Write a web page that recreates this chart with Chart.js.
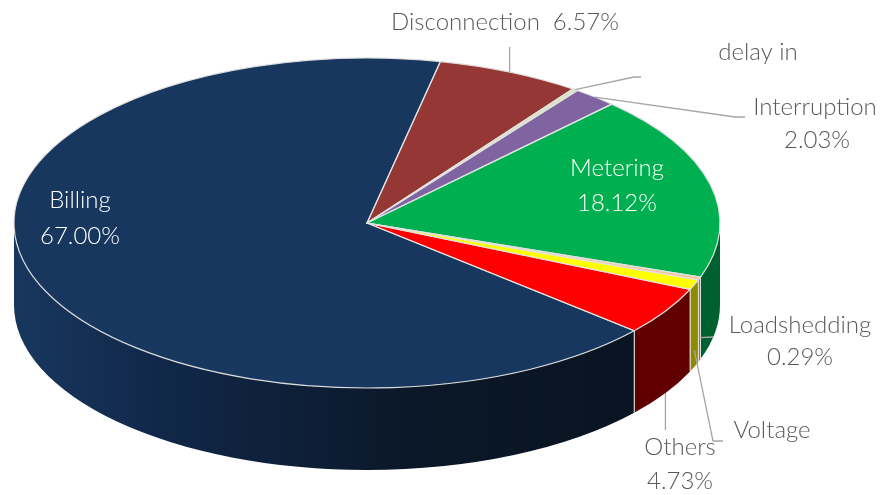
<!DOCTYPE html>
<html>
<head>
<meta charset="utf-8">
<script src="https://cdn.jsdelivr.net/npm/chart.js@4.4.0/dist/chart.umd.min.js"></script>
<style>
  html, body { margin: 0; padding: 0; background: #fff; }
  canvas { display: block; }
</style>
</head>
<body>
<canvas id="complaints" width="887" height="495"></canvas>
<script>
// complaint categories, clockwise from the top
const categories = ['Disconnection', 'delay in', 'Interruption', 'Metering', 'Loadshedding', 'Voltage', 'Others', 'Billing'];
const shares = [6.57, 0.26, 2.03, 18.12, 0.29, 1.00, 4.73, 67.00];
const showValue = [true, false, true, true, true, false, true, true];
const topColors = ['#953735', '#d7e4bd', '#8064a2', '#00b050', '#fac090', '#ffff00', '#ff0000', '#17375e'];
const sideColors = ['#5e2220', '#8a9a6a', '#4f3d66', '#006030', '#a0704a', '#8c8c00', '#600000', null];

// tilted disc: screen ellipse of the top face and thickness of the rim
const TILT = { cx: 367, cy: 223, rx: 353, ry: 165, depth: 82 };

// where each label sits: text line centres, elbow points of the leader, how far down the rim it attaches
const labelLayout = [
  { lines: [[505, 22]], inline: true, leader: 'up', stopY: 47 },
  { lines: [[758, 52]], leader: [[634, 77], [641, 77]] },
  { lines: [[815, 107], [817, 140]], leader: [[735, 117], [745, 117]] },
  { lines: [[617, 168], [617, 203]], inside: true },
  { lines: [[800, 325], [800, 357]], leader: [[713, 337]], rim: 0.72 },
  { lines: [[772, 430]], leader: [[713, 441], [723, 441]], rim: 0.8 },
  { lines: [[680, 447], [680, 481]], leader: 'down', stopY: 430, rim: 1 },
  { lines: [[80, 200], [80, 236]], inside: true }
];

const TAU = Math.PI * 2;

function frontSpans(arc) {
  const s = ((arc.startAngle % TAU) + TAU) % TAU;
  const e = s + (arc.endAngle - arc.startAngle);
  const out = [];
  [[0, Math.PI], [TAU, TAU + Math.PI]].forEach(([lo, hi]) => {
    const a = Math.max(s, lo), b = Math.min(e, hi);
    if (b > a) out.push([a, b]);
  });
  return out;
}

function rimPoint(angle, down) {
  return [TILT.cx + TILT.rx * Math.cos(angle), TILT.cy + TILT.ry * Math.sin(angle) + (down || 0)];
}

const tiltPlugin = {
  id: 'tilt',
  beforeDatasetsDraw(chart) {
    const ctx = chart.ctx;
    const arcs = chart.getDatasetMeta(0).data;
    const { cx, cy, rx, ry, depth } = TILT;

    const billingSide = ctx.createLinearGradient(cx - rx, 0, cx + rx, 0);
    billingSide.addColorStop(0, '#18375e');
    billingSide.addColorStop(0.2, '#11284a');
    billingSide.addColorStop(0.55, '#0b1829');
    billingSide.addColorStop(1, '#08131f');

    // rim of the disc, only the half facing the viewer
    arcs.forEach((arc, i) => {
      frontSpans(arc).forEach(([a, b]) => {
        ctx.beginPath();
        ctx.ellipse(cx, cy, rx, ry, 0, a, b);
        ctx.ellipse(cx, cy + depth, rx, ry, 0, b, a, true);
        ctx.closePath();
        ctx.fillStyle = sideColors[i] || billingSide;
        ctx.fill();
        ctx.strokeStyle = 'rgba(230,230,230,0.9)';
        ctx.lineWidth = 1;
        [a, b].forEach(t => {
          if (Math.abs(Math.sin(t)) < 1e-3) return;
          const [x, y] = rimPoint(t);
          ctx.beginPath();
          ctx.moveTo(x, y);
          ctx.lineTo(x, y + depth);
          ctx.stroke();
        });
      });
    });

    // squash the round pie into the top face
    const ref = arcs[0];
    ctx.save();
    ctx.translate(cx, cy);
    ctx.scale(rx / ref.outerRadius, ry / ref.outerRadius);
    ctx.translate(-ref.x, -ref.y);
  },
  afterDatasetsDraw(chart) {
    const ctx = chart.ctx;
    ctx.restore();
    const { cx, cy, rx, ry } = TILT;
    ctx.save();
    ctx.strokeStyle = 'rgba(225,225,225,0.95)';
    ctx.lineWidth = 1.2;
    ctx.lineJoin = 'round';
    chart.getDatasetMeta(0).data.forEach(arc => {
      ctx.beginPath();
      ctx.moveTo(cx, cy);
      ctx.ellipse(cx, cy, rx, ry, 0, arc.startAngle, arc.endAngle);
      ctx.closePath();
      ctx.stroke();
    });
    ctx.restore();
  }
};

const labelPlugin = {
  id: 'sliceLabels',
  afterDraw(chart) {
    const ctx = chart.ctx;
    const arcs = chart.getDatasetMeta(0).data;
    ctx.save();
    ctx.font = '300 24px Lato';
    ctx.textAlign = 'center';
    ctx.textBaseline = 'middle';
    labelLayout.forEach((lay, i) => {
      const arc = arcs[i];
      const value = shares[i].toFixed(2) + '%';
      let texts = [categories[i]];
      if (showValue[i]) {
        if (lay.inline) texts = [categories[i] + '  ' + value];
        else texts.push(value);
      }
      ctx.fillStyle = lay.inside ? '#ffffff' : '#595959';
      texts.forEach((t, k) => ctx.fillText(t, lay.lines[k][0], lay.lines[k][1]));

      if (!lay.leader) return;
      const mid = (arc.startAngle + arc.endAngle) / 2;
      const [ax, ay] = rimPoint(mid, (lay.rim || 0) * TILT.depth);
      ctx.strokeStyle = '#a6a6a6';
      ctx.lineWidth = 1.3;
      ctx.beginPath();
      ctx.moveTo(ax, ay);
      if (lay.leader === 'up' || lay.leader === 'down') {
        ctx.lineTo(ax, lay.stopY);
      } else {
        lay.leader.forEach(([x, y]) => ctx.lineTo(x, y));
      }
      ctx.stroke();
    });
    ctx.restore();
  }
};

new Chart(document.getElementById('complaints'), {
  type: 'pie',
  data: {
    labels: categories,
    datasets: [{
      data: shares,
      backgroundColor: topColors,
      borderWidth: 0
    }]
  },
  options: {
    responsive: false,
    animation: false,
    events: [],
    rotation: 12,
    plugins: {
      legend: { display: false },
      tooltip: { enabled: false }
    }
  },
  plugins: [tiltPlugin, labelPlugin]
});
</script>
</body>
</html>
